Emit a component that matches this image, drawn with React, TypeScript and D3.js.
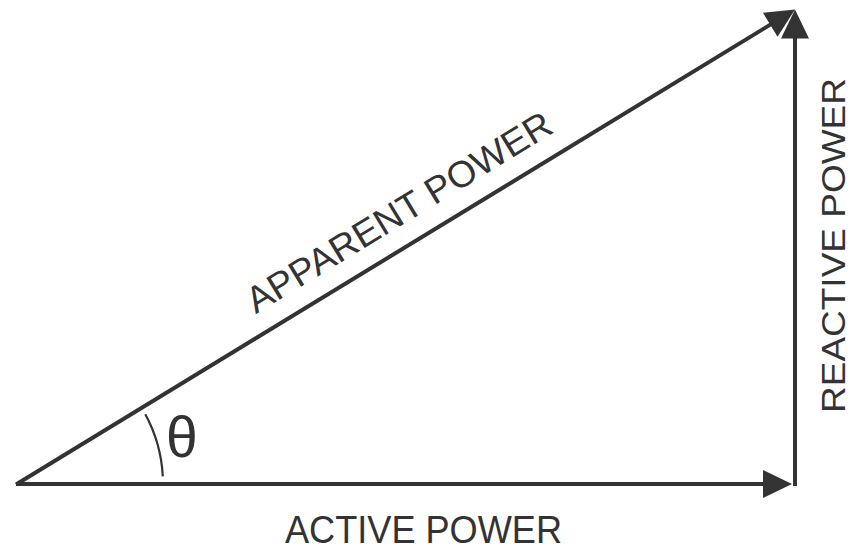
import { useEffect, useRef } from "react";
import * as d3 from "d3";

// power triangle values (per unit)
const activePower = 0.8;
const reactivePower = 0.488;
const labels = ["ACTIVE POWER", "REACTIVE POWER", "APPARENT POWER"];
const angleSymbol = "θ";

const width = 852;
const height = 549;
const ink = "#333333";

const PowerTriangle = () => {
  const ref = useRef<SVGSVGElement>(null);

  useEffect(() => {
    const svg = d3.select(ref.current);
    svg.selectAll("*").remove();

    const x = d3.scaleLinear().domain([0, activePower]).range([17, 795]);
    const y = d3.scaleLinear().domain([0, reactivePower]).range([484, 9.6]);

    const headLen = 29;
    const headHalf = 14;

    // arrow: line from p0 to p1 (tip), filled head at p1
    const arrow = (p0: [number, number], p1: [number, number], w: number) => {
      const dx = p1[0] - p0[0];
      const dy = p1[1] - p0[1];
      const len = Math.sqrt(dx * dx + dy * dy);
      const ux = dx / len;
      const uy = dy / len;
      const bx = p1[0] - ux * headLen;
      const by = p1[1] - uy * headLen;
      svg
        .append("line")
        .attr("x1", p0[0])
        .attr("y1", p0[1])
        .attr("x2", bx + ux * 2)
        .attr("y2", by + uy * 2)
        .attr("stroke", ink)
        .attr("stroke-width", w);
      svg
        .append("path")
        .attr(
          "d",
          d3.line()([
            p1,
            [bx - uy * headHalf, by + ux * headHalf],
            [bx + uy * headHalf, by - ux * headHalf],
          ]) + "Z"
        )
        .attr("fill", ink);
    };

    // active power (stops at the reactive line)
    arrow([x(0) - 1, y(0)], [x(activePower) - 3, y(0)], 4);
    // reactive power
    arrow([x(activePower), y(0) + 2], [x(activePower), y(reactivePower)], 4);
    // apparent power
    arrow([x(0) - 1, y(0) + 0.5], [x(activePower), y(reactivePower)], 4);

    // angle arc
    const r = 146;
    const arc = d3
      .arc()
      .innerRadius(r)
      .outerRadius(r)
      .startAngle(Math.PI / 2 - (28.5 * Math.PI) / 180)
      .endAngle(Math.PI / 2 - (3 * Math.PI) / 180);
    svg
      .append("path")
      .attr("transform", `translate(${x(0)},${y(0)})`)
      .attr("d", arc({} as any) as string)
      .attr("fill", "none")
      .attr("stroke", ink)
      .attr("stroke-width", 2.2);

    const font = "'Liberation Sans', Arial, sans-serif";

    svg
      .append("text")
      .attr("x", 166)
      .attr("y", 457)
      .attr("font-family", font)
      .attr("font-size", 57)
      .attr("fill", ink)
      .text(angleSymbol);

    svg
      .append("text")
      .attr("x", 423.5)
      .attr("y", 543)
      .attr("text-anchor", "middle")
      .attr("font-family", font)
      .attr("font-size", 39)
      .attr("textLength", 277)
      .attr("lengthAdjust", "spacingAndGlyphs")
      .attr("fill", ink)
      .text(labels[0]);

    svg
      .append("text")
      .attr("transform", "translate(845,245.5) rotate(-90)")
      .attr("text-anchor", "middle")
      .attr("font-family", font)
      .attr("font-size", 34)
      .attr("textLength", 335)
      .attr("lengthAdjust", "spacingAndGlyphs")
      .attr("fill", ink)
      .text(labels[1]);

    const ang = (Math.atan2(y(0) - y(reactivePower), x(activePower) - x(0)) * 180) / Math.PI;
    svg
      .append("text")
      .attr("transform", `translate(405.5,223) rotate(${-ang})`)
      .attr("text-anchor", "middle")
      .attr("font-family", font)
      .attr("font-size", 37)
      .attr("textLength", 351)
      .attr("lengthAdjust", "spacingAndGlyphs")
      .attr("fill", ink)
      .text(labels[2]);
  }, []);

  return (
    <svg
      ref={ref}
      width={width}
      height={height}
      style={{ position: "absolute", left: 0, top: 0, background: "#fff" }}
    />
  );
};

export default function App() {
  return <PowerTriangle />;
}
